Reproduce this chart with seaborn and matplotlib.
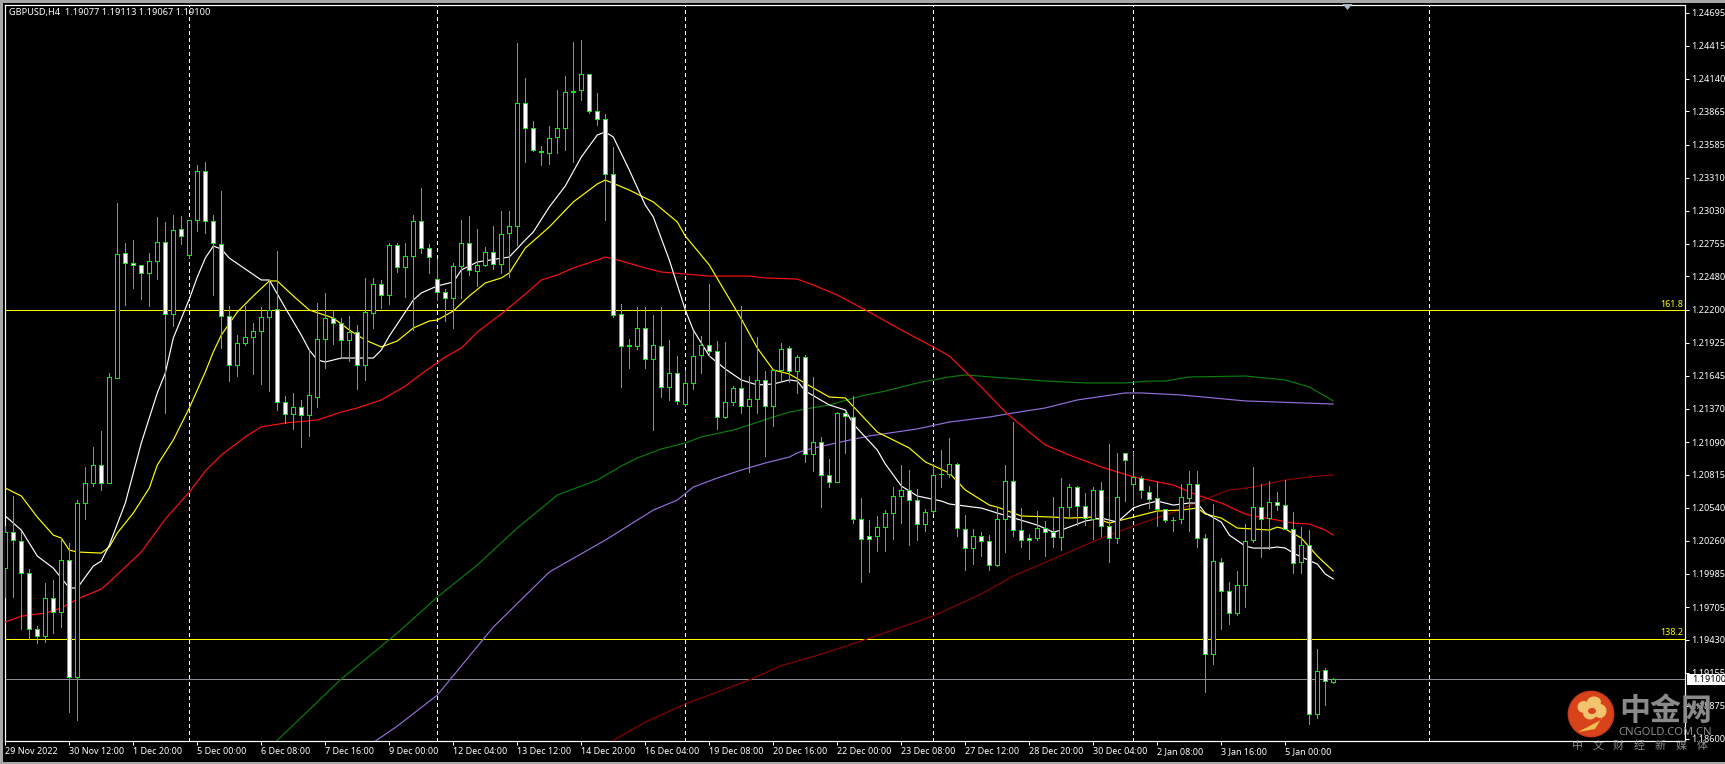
import numpy as np
import pandas as pd
import seaborn as sns
import matplotlib
matplotlib.use("Agg")
import matplotlib.pyplot as plt
from matplotlib.patches import Circle, Polygon, Rectangle, Ellipse
from matplotlib.transforms import IdentityTransform

# ---- data: prices in points (1e-5) ----
opens = [120032,120334,120259,119990,119520,119462,119781,119663,120099,119117,
120578,120746,120897,120746,121627,122676,122592,122576,122509,122609,
122769,122165,122877,122659,122953,123365,122945,122752,122148,121737,
121921,121972,122022,122139,122206,121426,121325,121384,121317,121468,
121955,122131,122089,121946,122013,121737,122173,122416,122324,122743,
122559,122651,122945,122718,122458,122349,122299,122568,122760,122526,
122576,122685,122584,122844,122903,123936,123726,123533,123516,123650,
123726,124036,124045,124179,123868,123801,123340,122165,121904,121896,
122047,121787,121896,121552,121669,121409,121586,121821,121904,121854,
121300,121426,121544,121393,121451,121611,121393,121695,121879,121686,
121804,120990,121091,120814,120755,121334,121300,120444,120301,120301,
120376,120494,120637,120688,120603,120402,120511,120825,120822,120906,
120360,120200,120301,120259,120058,120444,120763,120351,120284,120284,
120368,120334,120292,120544,120712,120553,120444,120688,120385,120284,
120998,120738,120788,120670,120620,120527,120437,120444,120620,120737,
120284,119310,120083,119839,119655,119890,120267,120544,120452,120586,
120561,120360,120083,120225,118807,119176,119077]
highs = [120385,120637,120343,120024,119545,119906,119932,120284,120242,120603,
120881,121049,121183,121669,123096,122760,122785,122576,122676,122978,
122936,122995,122987,122953,123415,123441,122995,123197,122232,121988,
122232,122089,122223,122450,122693,121477,121502,121443,121862,122257,
122341,122190,122131,122148,122072,122467,122467,122450,122760,122760,
122760,122995,123222,122752,122626,122374,122592,122953,122987,122878,
122727,122903,123029,123029,124439,124145,123785,123575,123743,124045,
124162,124447,124464,124179,124019,123843,123566,122248,121955,122223,
122223,122156,122223,121946,121812,121695,122013,121980,122416,121938,
121930,121560,122232,121644,121972,121686,121695,121921,121896,121821,
121821,121636,121133,120948,121342,121342,121477,120620,120435,120469,
120519,120712,120897,120855,120695,120527,120906,121023,121124,120914,
120477,120360,120334,120309,120544,120897,121258,120536,120318,120511,
120427,120628,120788,120737,120721,120662,120712,120754,121074,120998,
120998,121007,120805,120721,120754,120527,120460,120737,120847,120847,
120318,120569,120116,119915,120007,120402,120881,120737,120762,120670,
120771,120502,120376,120351,119352,119193,119113]
lows = [119789,119789,119520,119437,119403,119411,119487,119537,118824,118757,
120444,120722,120688,120746,121627,122240,122383,122290,122232,122458,
121334,122064,122752,122634,122861,122844,122324,121879,121602,121644,
121904,121661,121577,121518,121359,121250,121200,121049,121141,121384,
121712,121913,121795,121770,121535,121611,122047,122215,122248,122517,
122307,122030,122676,122509,122282,122106,122047,122299,122492,122400,
122568,122542,122509,122475,122743,123441,123533,123415,123424,123516,
123541,123441,123961,123852,123751,122953,122139,121552,121712,121871,
121712,121191,121468,121443,121409,121393,121535,121669,121812,121200,
121292,121401,121334,120839,121334,120973,121225,121602,121594,121502,
120923,120847,120544,120713,120755,120998,120410,119915,119999,120175,
120175,120276,120410,120225,120267,120343,120494,120713,120797,120301,
120016,120066,120133,120016,120049,120167,120301,120209,120108,120267,
120133,120209,120183,120469,120393,120393,120276,120301,120083,120242,
120595,120561,120620,120536,120385,120418,120343,120410,120343,120209,
118992,119227,119520,119562,119638,119705,120251,120125,120192,120519,
120360,119990,119990,118723,118773,118882,119067]
closes = [120334,120267,119990,119520,119462,119781,119663,120099,119117,120578,
120746,120897,120746,121636,122668,122592,122576,122509,122609,122769,
122165,122869,122819,122953,123365,122945,122760,122148,121737,121921,
121972,122022,122139,122198,121426,121325,121384,121317,121485,121955,
122131,122089,121946,122013,121737,122181,122416,122324,122743,122559,
122651,122945,122718,122643,122349,122299,122568,122760,122534,122576,
122685,122584,122836,122903,123936,123726,123541,123524,123642,123726,
124028,124028,124179,123868,123801,123340,122156,121896,121900,122047,
121787,121904,121552,121669,121435,121586,121812,121904,121854,121300,
121426,121544,121393,121451,121611,121393,121695,121871,121686,121804,
120990,121091,120814,120755,121334,121309,120444,120276,120276,120376,
120494,120637,120688,120603,120402,120502,120814,120820,120906,120368,
120200,120301,120259,120058,120444,120763,120351,120267,120267,120368,
120334,120292,120544,120712,120553,120452,120688,120385,120284,120628,
120939,120797,120688,120612,120527,120435,120433,120628,120737,120284,
119310,120091,119839,119655,119890,120259,120544,120444,120586,120561,
120360,120074,120225,118807,119168,119083,119100]

white_bars = [0,2,4,6,8,9,11,12,13,15,17,19,20,21,23,24,25,26,27,28,30,32,33,35,37,38,39,40,42,45,46,47,48,50,51,52,54,56,57,59,63,65,66,68,70,72,74,75,76,78,80,81,83,85,86,88,90,92,94,96,98,99,100,103,105,106,109,110,112,114,117,118,121,122,124,129,131,132,135,137,139,141,142,144,146,148,149,150,152,153,155,156,158,159,160,161,162,164,165,166]
white_vals = [120469,120351,120133,120032,119865,119865,120049,120091,120225,120578,121082,121502,121669,121963,122290,122475,122634,122735,122710,122634,122542,122450,122450,122215,121988,121862,121779,121762,121795,121795,121795,121862,121980,122181,122282,122341,122400,122433,122534,122601,122643,122786,122853,123063,123239,123482,123667,123692,123650,123373,123079,122979,122618,122198,122030,121812,121703,121611,121569,121577,121611,121602,121518,121401,121359,121241,121023,120906,120721,120637,120595,120570,120544,120536,120494,120393,120334,120351,120427,120452,120418,120536,120561,120595,120561,120578,120578,120494,120418,120309,120217,120200,120200,120209,120200,120158,120125,120066,119982,119940]

yellow_bars = [0,2,4,6,7,8,9,12,13,14,16,18,19,21,23,24,25,26,27,29,31,33,34,36,38,41,43,45,47,49,51,53,54,56,58,60,62,63,65,68,71,74,75,78,81,84,85,88,90,92,94,96,98,101,103,105,107,109,113,115,118,120,123,124,127,131,133,136,138,141,144,147,149,150,152,154,156,158,159,160,162,164,166]
yellow_vals = [120704,120637,120460,120309,120284,120183,120167,120158,120209,120326,120494,120704,120897,121107,121376,121527,121678,121846,121988,122181,122316,122442,122442,122316,122198,122131,122030,121946,121888,121938,122047,122106,122114,122190,122316,122425,122467,122509,122718,122895,123105,123256,123289,123205,123105,122937,122819,122576,122349,122123,121879,121695,121661,121544,121468,121460,121317,121174,121040,120923,120830,120688,120561,120544,120469,120460,120452,120460,120410,120460,120511,120519,120536,120486,120452,120368,120360,120351,120376,120360,120284,120133,120007]

red_bars = [0,2,5,7,9,12,13,17,20,23,25,27,30,32,35,39,42,44,47,50,52,55,57,59,62,65,67,69,71,74,75,77,80,82,85,88,93,95,99,101,104,108,112,116,118,122,125,128,130,133,137,141,146,149,152,155,156,159,161,163,165,166]
red_vals = [119579,119629,119654,119697,119772,119856,119915,120167,120444,120670,120847,120981,121133,121217,121250,121275,121342,121376,121443,121560,121661,121804,121879,122013,122165,122332,122450,122492,122551,122618,122643,122609,122551,122517,122500,122483,122483,122467,122458,122408,122324,122181,122030,121888,121812,121552,121342,121174,121065,120981,120881,120797,120729,120645,120578,120486,120469,120435,120410,120402,120351,120309]

green_bars = [33,42,49,54,59,64,69,74,77,79,82,85,87,91,93,96,98,100,103,107,110,114,118,120,125,130,135,140,143,145,148,155,160,163,166]
green_vals = [118522,119101,119487,119789,120058,120368,120645,120771,120889,120956,121032,121082,121133,121191,121233,121300,121342,121367,121401,121477,121518,121586,121636,121653,121627,121602,121586,121586,121602,121602,121636,121644,121611,121552,121435]

purple_bars = [45,49,54,61,68,75,81,84,86,89,92,95,98,99,100,105,108,114,118,123,126,130,134,140,142,147,155,166]
purple_vals = [118522,118706,118966,119537,119999,120267,120519,120603,120712,120788,120855,120914,120964,120998,121023,121099,121141,121200,121258,121300,121334,121376,121443,121502,121502,121485,121435,121409]

maroon_bars = [75,80,85,89,93,97,102,107,116,122,126,133,137,141,146,151,153,156,160,163,166]
maroon_vals = [118547,118740,118891,118992,119093,119213,119310,119420,119630,119815,119965,120167,120284,120385,120502,120637,120688,120712,120771,120797,120814]

time_labels = ["29 Nov 2022","30 Nov 12:00","1 Dec 20:00","5 Dec 00:00","6 Dec 08:00","7 Dec 16:00",
               "9 Dec 00:00","12 Dec 04:00","13 Dec 12:00","14 Dec 20:00","16 Dec 04:00","19 Dec 08:00",
               "20 Dec 16:00","22 Dec 00:00","23 Dec 08:00","27 Dec 12:00","28 Dec 20:00","30 Dec 04:00",
               "2 Jan 08:00","3 Jan 16:00","5 Jan 00:00"]
price_labels = ["1.24695","1.24415","1.24140","1.23865","1.23585","1.23310","1.23030","1.22755",
                "1.22480","1.22200","1.21925","1.21645","1.21370","1.21090","1.20815","1.20540",
                "1.20260","1.19985","1.19705","1.19430","1.19155","1.18875","1.18600"]
week_bars = [23, 54, 85, 116, 141, 178]
fib_levels = [1.22195, 1.19437]
fib_names = ["161.8", "138.2"]
last_price = 1.19100

# ---- style ----
W, H = 1725, 764
PX = 0.72  # one pixel in points at dpi 100
sns.set_style("dark", {"axes.facecolor": "black", "figure.facecolor": "black",
                       "axes.grid": False})
UI_FONT = ["Noto Sans", "DejaVu Sans"]
CJK_FONT = ["Noto Sans CJK SC", "DejaVu Sans"]
plt.rcParams["font.family"] = UI_FONT
GREEN = "#16e616"

fig = plt.figure(figsize=(W / 100, H / 100), dpi=100, facecolor="black")
L, R, T, B = 4.5, 1685.0, 4.7, 741.0
ax = fig.add_axes([L / W, 1 - B / H, (R - L) / W, (B - T) / H], facecolor="black")

x = np.arange(len(opens))
o, h, l, c = [np.array(a) / 1e5 for a in (opens, highs, lows, closes)]

# moving averages through seaborn
ma_series = [(purple_bars, purple_vals, "#9370db"), (green_bars, green_vals, "#0a7d0a"),
             (maroon_bars, maroon_vals, "#8b0000"), (red_bars, red_vals, "#ff1010"),
             (yellow_bars, yellow_vals, "#ffff00"), (white_bars, white_vals, "#ffffff")]
for bars, vals, col in ma_series:
    df = pd.DataFrame({"bar": bars, "price": np.array(vals) / 1e5})
    sns.lineplot(data=df, x="bar", y="price", color=col, ax=ax, linewidth=0.85,
                 estimator=None, sort=False, zorder=3, legend=False)

# horizontal levels and period separators
for lv in fib_levels:
    ax.axhline(lv, color="#ffff00", lw=0.72, zorder=2, antialiased=False)
ax.axhline(last_price, color="#8c8c96", lw=0.72, zorder=2, antialiased=False)
ax.vlines(week_bars, 0, 1, transform=ax.get_xaxis_transform(), colors="white",
          lw=0.72, linestyles=(0, (4, 4)), zorder=2, antialiased=False)

# candles
ax.vlines(x, l, h, colors=GREEN, lw=0.7, zorder=5, antialiased=False)
up = c >= o
ax.bar(x[up], (c - o)[up], bottom=o[up], width=0.5, facecolor="black",
       edgecolor=GREEN, linewidth=0.7, zorder=6, antialiased=False)
ax.bar(x[~up], (o - c)[~up], bottom=c[~up], width=0.5, facecolor="white",
       edgecolor=GREEN, linewidth=0.7, zorder=6, antialiased=False)

# axes
ax.set_xlim((L - 5.3) / 8, (R - 5.3) / 8)
ax.set_ylim(1.248 - B * 8.393e-5, 1.248 - T * 8.393e-5)
ax.set_xlabel("")
ax.set_ylabel("")
ax.set_xticks(np.arange(len(time_labels)) * 8)
ax.set_xticklabels(time_labels, ha="left", color="white", fontsize=9.0 * PX)
ax.yaxis.tick_right()
ax.set_yticks([float(s) for s in price_labels])
ax.set_yticklabels(price_labels, color="white", fontsize=9.1 * PX)
ax.tick_params(axis="y", length=4 * PX, width=1 * PX, color="white", pad=2.6 * PX,
               right=True, left=False)
ax.tick_params(axis="x", length=4 * PX, width=1 * PX, color="white", pad=2.4 * PX,
               bottom=True)
for s in ax.spines.values():
    s.set_visible(True)
    s.set_color("white")
    s.set_linewidth(1.2 * PX)

def ftext(px, py, s, **kw):
    fig.text(px / W, 1 - py / H, s, **kw)

ftext(9, 12.7, "GBPUSD,H4  1.19077 1.19113 1.19067 1.19100", color="white",
      fontsize=9.2 * PX, va="center", ha="left")
for lv, name in zip(fib_levels, fib_names):
    ypx = (1.248 - lv) / 8.393e-5
    ftext(1683.5, ypx - 6, name, color="#ffff00", fontsize=9.0 * PX, va="center", ha="right")

# current price tag
idt = IdentityTransform()
fig.add_artist(Rectangle((1686.5, H - 685), 38.5, 11.5, transform=idt, facecolor="white",
                         edgecolor="none", zorder=10))
ftext(1692, 679.5, "1.19100", color="black", fontsize=9.1 * PX, va="center", ha="left", zorder=11)

# window rim and the little shift marker
for rect in [(0, 0, 3, H), (0, H - 3, W, 3), (0, 0, W, 2.5)]:
    fig.add_artist(Rectangle(rect[:2], rect[2], rect[3], transform=idt, facecolor="#a8a8a8",
                             edgecolor="none", zorder=12))
fig.add_artist(Polygon([(1342.5, H - 4), (1352.5, H - 4), (1347.5, H - 10)], transform=idt,
                       facecolor="#aeb6c6", edgecolor="none", zorder=9))

# watermark
cx, cy = 1591, H - 714
fig.add_artist(Circle((cx, cy), 22.7, transform=idt, facecolor="#d8431a",
                      edgecolor="#c6391c", lw=1, zorder=13))
for ex, ey, rx, ry in [(-7, 7, 13, 12), (3, 12, 14, 11), (9, 3, 13, 14), (-1, 1, 14, 13)]:
    fig.add_artist(Ellipse((cx + ex, cy + ey), rx, ry, transform=idt, facecolor="#f3c46e",
                           edgecolor="none", zorder=14))
fig.add_artist(Polygon([(cx - 13, cy - 18), (cx + 10, cy - 6), (cx + 15, cy + 3),
                        (cx + 4, cy - 15)], transform=idt, facecolor="#f2c04f",
                       edgecolor="none", zorder=14))
fig.add_artist(Ellipse((cx + 1, cy + 3), 8, 6, transform=idt, facecolor="#d8431a",
                       edgecolor="none", zorder=15))
ftext(1665.5, 711, "中金网", color="#8a8a8a", fontsize=31 * PX, family=CJK_FONT,
      fontweight="bold", ha="center", va="center", zorder=13)
ftext(1665, 732.5, "CNGOLD.COM.CN", color="#8c8c8c", fontsize=11.2 * PX, ha="center",
      va="center", zorder=13)
for k, ch in enumerate("中文财经新媒体"):
    ftext(1577 + k * 20.8, 746, ch, color="#8a8a8a", fontsize=11 * PX, family=CJK_FONT,
          ha="center", va="center", zorder=13)

fig.savefig("out.png", dpi=100, facecolor="black")
